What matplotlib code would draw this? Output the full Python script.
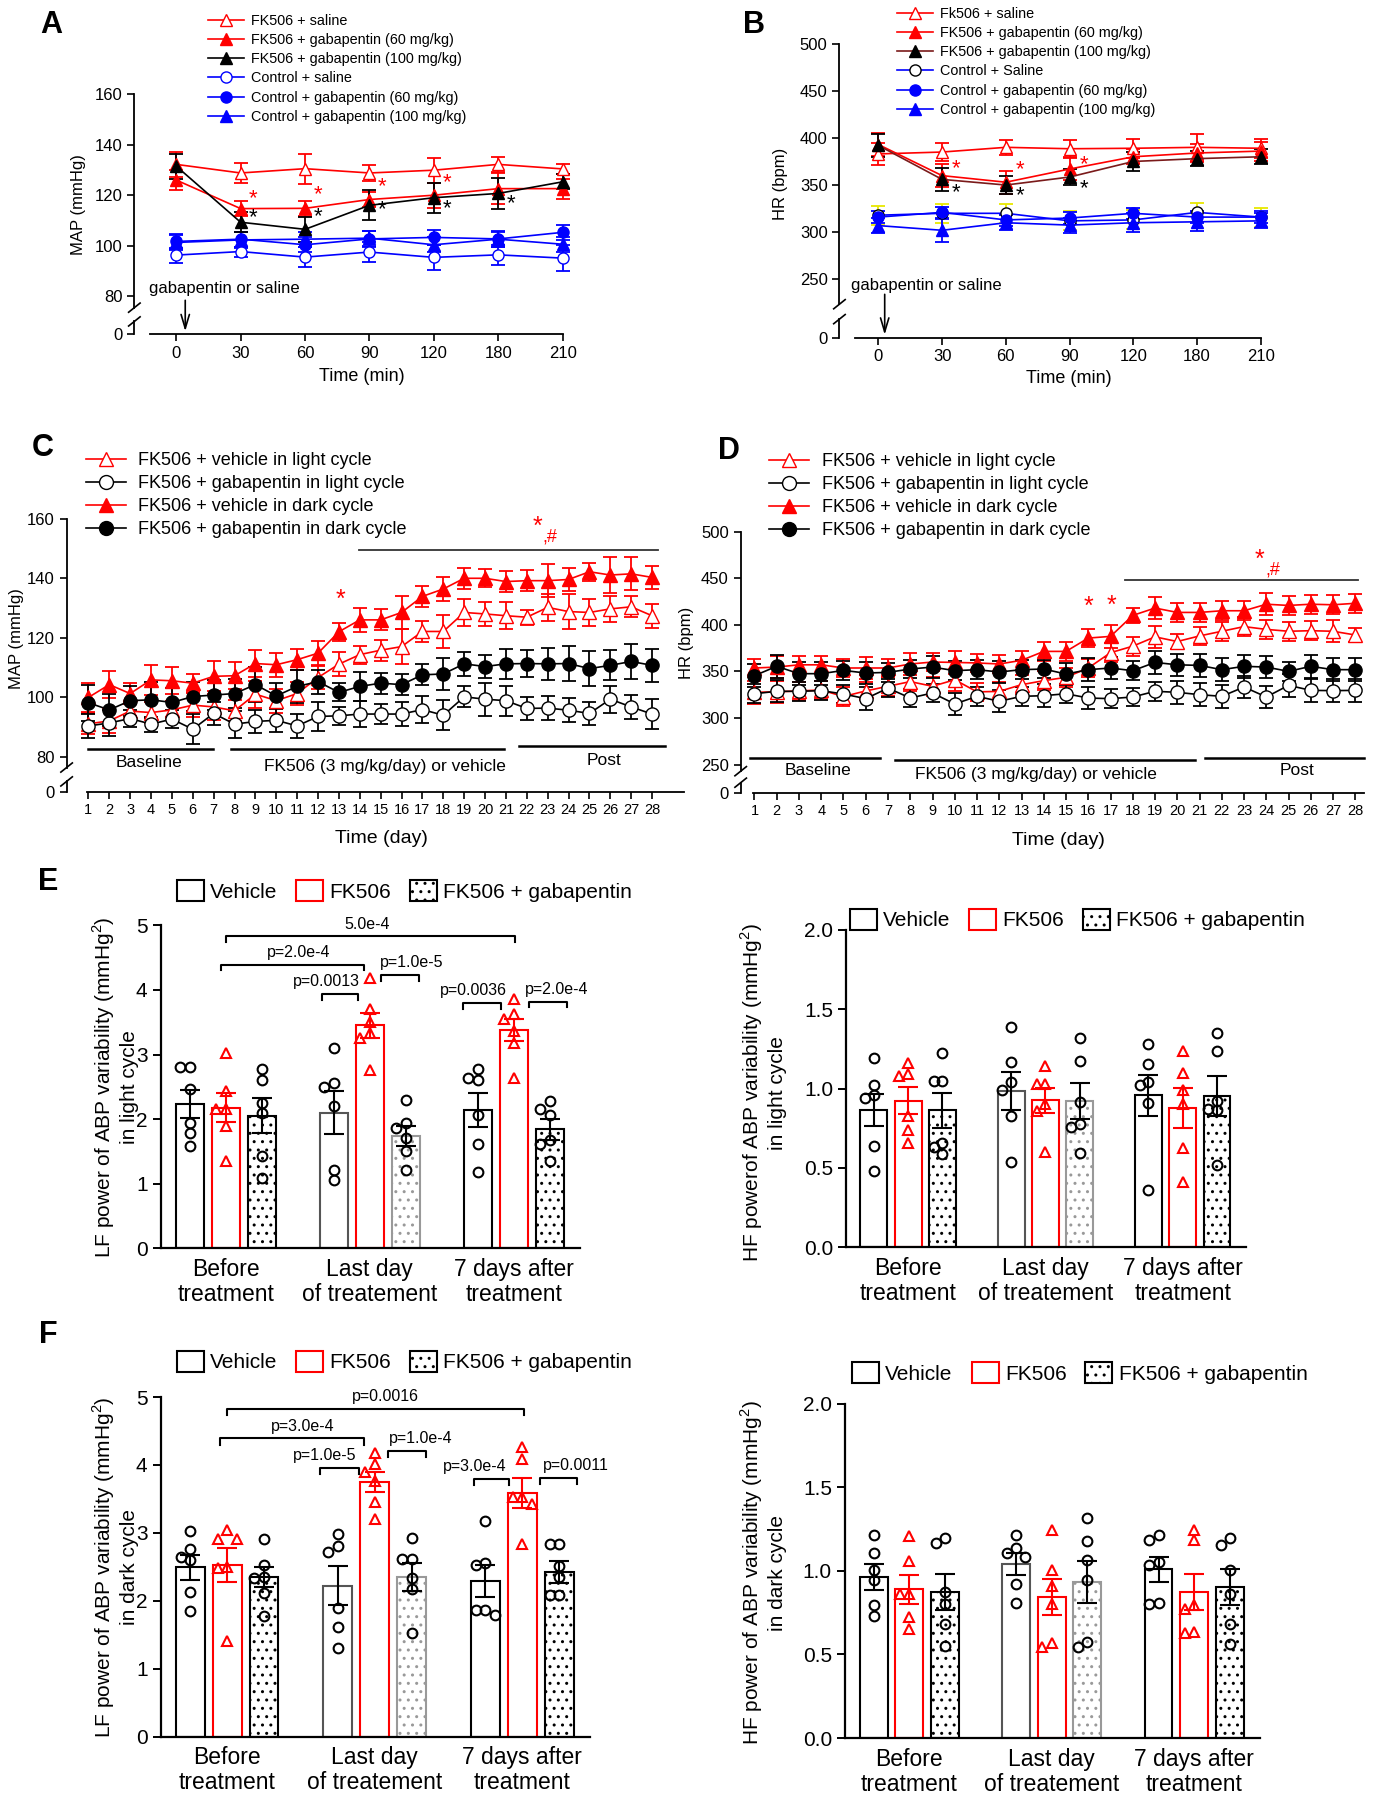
import numpy as np
import matplotlib
matplotlib.use("Agg")
import matplotlib.pyplot as plt
from matplotlib.lines import Line2D
from matplotlib.patches import Patch

plt.rcParams['font.family'] = ['Liberation Sans', 'DejaVu Sans']
plt.rcParams['mathtext.fontset'] = 'custom'
plt.rcParams['mathtext.rm'] = 'Liberation Sans'
plt.rcParams['axes.linewidth'] = 1.3

# ---------------- data ----------------
time_labels = ['0', '30', '60', '90', '120', '180', '210']

# A: MAP after acute gabapentin
a_fk_saline = [132.2, 128.8, 130.5, 128.8, 129.9, 132.2, 130.4]
a_fk_saline_err = [5, 4, 6, 3, 5, 3, 2]
a_fk_gaba60 = [126.0, 114.7, 114.8, 118.3, 120.0, 122.6, 122.6]
a_fk_gaba60_err = [4, 3, 3, 3, 5, 6, 4]
a_fk_gaba100 = [131.5, 109.3, 106.5, 116.0, 119.0, 120.7, 125.3]
a_fk_gaba100_err = [5, 4, 5, 6, 6, 6, 3]
a_ct_saline = [96.3, 97.7, 95.5, 97.5, 95.4, 96.4, 95.1]
a_ct_saline_err = [3, 2, 4, 4, 5, 4, 5]
a_ct_gaba60 = [101.7, 102.6, 100.4, 102.7, 103.3, 102.7, 105.3]
a_ct_gaba60_err = [3, 3, 3, 3, 3, 3, 3]
a_ct_gaba100 = [101.3, 102.3, 102.6, 103.0, 100.4, 102.6, 100.6]
a_ct_gaba100_err = [3, 3, 3, 3, 3, 3, 3]
a_red_star_y = [118.7, 120.4, 123.5, 124.8]
a_black_star_y = [111.0, 111.5, 114.4, 114.8, 116.5]

# B: HR after acute gabapentin
b_fk_saline = [383, 385, 390, 388.5, 389, 390, 389]
b_fk_saline_err = [12, 10, 8, 9, 10, 14, 10]
b_fk_gaba60 = [393, 360, 353, 367, 380, 384, 386]
b_fk_gaba60_err = [12, 12, 12, 12, 8, 10, 10]
b_fk_gaba100 = [392, 356, 350, 358.5, 375, 378, 380]
b_fk_gaba100_err = [12, 12, 10, 8, 10, 8, 8]
b_ct_saline = [318, 320, 320, 312, 313, 321, 316]
b_ct_saline_err = [10, 10, 10, 10, 10, 10, 10]
b_ct_gaba60 = [316, 321, 313, 315, 320, 316, 316]
b_ct_gaba60_err = [6, 6, 6, 6, 6, 6, 6]
b_ct_gaba100 = [307, 302, 310, 307.5, 310, 311, 312]
b_ct_gaba100_err = [8, 12, 8, 8, 10, 10, 8]
b_red_star_y = [367, 366, 372]
b_black_star_y = [342, 339, 346]

# C: MAP over 28 days
days = list(range(1, 29))
c_veh_light = [91, 92, 95.3, 94.8, 95.7, 97.3, 96.7, 95.4, 101, 98.8, 101.2, 106.6, 111.1, 114.3,
               115.8, 117, 122.1, 122.1, 128.5, 128, 127.4, 126.9, 130.2, 128.8, 128.5, 129.7, 130.4, 127.4]
c_veh_light_err = [3.5, 4, 3, 3.5, 3, 4, 4.5, 3.5, 4.5, 4, 4, 4, 4, 3, 3.5, 6, 3.5, 5.5, 4.5, 4, 4.5,
                   2.5, 4.5, 6, 4.5, 4.5, 3.5, 4]
c_gaba_light = [90.3, 91.3, 92.8, 90.9, 92.6, 89.2, 94.5, 90.9, 91.8, 92.2, 90.3, 93.5, 93.7, 94.3,
                94.3, 94.3, 95.8, 93.9, 100.1, 99.3, 98.8, 96.2, 96.3, 95.6, 94.5, 99.3, 96.7, 94.3]
c_gaba_light_err = [4, 4.5, 3, 2.5, 3, 5, 4, 4.5, 4, 4, 4, 5, 3, 4.5, 3.5, 4, 4.5, 5, 3.5, 5.5, 5, 4,
                    4, 4, 4, 4.5, 4, 5]
c_veh_dark = [99.9, 104.2, 101.2, 105.8, 105.5, 104.7, 107, 107.2, 111.3, 110.9, 112.6, 114.8, 122,
              126, 126, 128.5, 133.9, 136.4, 140, 140, 138.9, 139.2, 139.2, 139.6, 142.2, 141.1, 141.5, 140.3]
c_veh_dark_err = [5, 4.5, 3.5, 5, 4.5, 3, 5, 4.5, 4.5, 4, 3.5, 4, 3, 4, 3.5, 5.5, 3.5, 4, 3.5, 3, 3.5,
                  3.5, 5.5, 4, 3, 6, 5.5, 4]
c_gaba_dark = [98.1, 95.7, 98.8, 99.1, 98.2, 100.2, 100.7, 101.2, 104.2, 100.4, 103.6, 105.2, 101.6,
               103.6, 104.7, 104.2, 107.5, 107.8, 111.2, 110.3, 111.2, 111.3, 111.2, 111.3, 109.6, 110.7, 112, 110.7]
c_gaba_dark_err = [6, 5.5, 5, 6, 5, 5, 5, 5, 6, 4.5, 5.5, 4, 3, 5, 3.5, 3.5, 3.5, 5.5, 4, 4, 5, 4.5,
                   5.5, 6, 6, 5, 6, 5.5]

# D: HR over 28 days
d_veh_light = [327.5, 328, 329, 330, 323, 329, 334, 339, 334, 341, 328, 328.5, 335.7, 340, 343.6,
               353.6, 370, 377, 387, 382, 388, 393, 398, 395, 393, 393.6, 393, 389]
d_veh_light_err = [12, 12, 10, 10, 10, 10, 10, 10, 10, 12, 10, 10, 10, 10, 10, 10, 10, 10, 12, 8, 10,
                   10, 10, 10, 10, 10, 12, 8]
d_gaba_light = [326, 328.6, 328.6, 329.3, 325.7, 320.7, 332, 321.4, 326.8, 315, 323.2, 317.9, 323.2,
                323.9, 326, 321.4, 320.7, 322.5, 328.6, 327.5, 325, 323.2, 333.2, 322.5, 335, 329.6, 329.3, 329.6]
d_gaba_light_err = [10, 12, 10, 10, 10, 12, 10, 10, 10, 12, 10, 12, 10, 12, 10, 12, 10, 10, 10, 12,
                    12, 12, 12, 12, 12, 12, 12, 12]
d_veh_dark = [353.6, 354.6, 357, 357, 353.6, 353.6, 353.6, 357.9, 360, 359.6, 359, 357.9, 361.8, 371.4,
              371.4, 385.7, 387.5, 410, 417.9, 413.2, 413.2, 415, 415, 422, 420.7, 422, 421.4, 423]
d_veh_dark_err = [10, 12, 10, 10, 10, 12, 10, 12, 10, 12, 10, 10, 10, 10, 10, 10, 12, 8, 12, 10, 10,
                  10, 10, 12, 10, 10, 10, 10]
d_gaba_dark = [345.4, 355.4, 347.5, 347.5, 351, 348.2, 348.9, 352.5, 354.6, 350.7, 351.8, 349.3, 351.8,
               352.5, 347.1, 351.8, 353.6, 350.7, 359.6, 357, 356.4, 351.8, 355.4, 354.6, 350, 355.4, 351.8, 351.8]
d_gaba_dark_err = [12, 12, 12, 12, 10, 12, 10, 10, 12, 10, 10, 12, 10, 10, 12, 12, 12, 10, 12, 12, 12,
                   12, 12, 12, 10, 12, 12, 12]

# E / F: LF and HF power, bars = mean, error = SEM, dots = animals
groups = ['Before\ntreatment', 'Last day\nof treatement', '7 days after\ntreatment']
bar_names = ['Vehicle', 'FK506', 'FK506 + gabapentin']

e_lf_veh_mean = [2.23, 2.10, 2.14]
e_lf_veh_sem = [0.22, 0.33, 0.26]
e_lf_fk_mean = [2.18, 3.45, 3.38]
e_lf_fk_sem = [0.23, 0.19, 0.17]
e_lf_gaba_mean = [2.05, 1.74, 1.84]
e_lf_gaba_sem = [0.27, 0.16, 0.16]
e_lf_veh_pts = [[2.81, 2.81, 2.46, 1.94, 1.79, 1.59], [3.10, 2.56, 2.50, 2.20, 1.21, 1.06],
                [2.77, 2.64, 2.61, 2.07, 1.62, 1.18]]
e_lf_fk_pts = [[3.03, 2.43, 2.15, 2.15, 1.90, 1.35], [4.19, 3.70, 3.50, 3.34, 3.25, 2.76],
               [3.86, 3.62, 3.55, 3.36, 3.18, 2.64]]
e_lf_gaba_pts = [[2.78, 2.61, 2.25, 2.10, 1.43, 1.09], [2.30, 1.94, 1.87, 1.71, 1.50, 1.22],
                 [2.28, 2.16, 2.06, 1.67, 1.61, 1.35]]

e_hf_veh_mean = [0.863, 0.987, 0.958]
e_hf_veh_sem = [0.10, 0.12, 0.13]
e_hf_fk_mean = [0.924, 0.926, 0.878]
e_hf_fk_sem = [0.085, 0.078, 0.126]
e_hf_gaba_mean = [0.863, 0.922, 0.952]
e_hf_gaba_sem = [0.11, 0.113, 0.125]
e_hf_veh_pts = [[1.19, 1.02, 0.96, 0.94, 0.64, 0.48], [1.385, 1.17, 1.04, 0.99, 0.825, 0.54],
                [1.278, 1.154, 1.04, 1.02, 0.91, 0.358]]
e_hf_fk_pts = [[1.16, 1.09, 1.08, 0.825, 0.74, 0.66], [1.14, 1.03, 1.03, 0.90, 0.86, 0.60],
               [1.236, 1.095, 0.99, 0.90, 0.625, 0.41]]
e_hf_gaba_pts = [[1.225, 1.05, 1.05, 0.66, 0.63, 0.59], [1.316, 1.175, 0.916, 0.775, 0.758, 0.596],
                 [1.347, 1.236, 0.92, 0.874, 0.863, 0.52]]

f_lf_veh_mean = [2.49, 2.22, 2.29]
f_lf_veh_sem = [0.18, 0.29, 0.23]
f_lf_fk_mean = [2.53, 3.75, 3.59]
f_lf_fk_sem = [0.25, 0.15, 0.22]
f_lf_gaba_mean = [2.35, 2.35, 2.42]
f_lf_gaba_sem = [0.15, 0.20, 0.16]
f_lf_veh_pts = [[3.02, 2.76, 2.65, 2.60, 2.13, 1.85], [2.98, 2.80, 2.72, 1.90, 1.62, 1.31],
                [3.18, 2.55, 2.53, 1.86, 1.86, 1.79]]
f_lf_fk_pts = [[3.04, 2.91, 2.91, 2.50, 2.48, 1.40], [4.18, 4.02, 3.89, 3.77, 3.46, 3.20],
               [4.26, 4.09, 3.53, 3.53, 3.42, 2.83]]
f_lf_gaba_pts = [[2.91, 2.52, 2.35, 2.34, 2.11, 1.78], [2.93, 2.62, 2.62, 2.33, 2.18, 1.53],
                 [2.84, 2.84, 2.51, 2.35, 2.08, 2.08]]

f_hf_veh_mean = [0.963, 1.043, 1.009]
f_hf_veh_sem = [0.077, 0.066, 0.077]
f_hf_fk_mean = [0.89, 0.844, 0.874]
f_hf_fk_sem = [0.085, 0.11, 0.11]
f_hf_gaba_mean = [0.874, 0.933, 0.904]
f_hf_gaba_sem = [0.106, 0.127, 0.106]
f_hf_veh_pts = [[1.217, 1.108, 1.007, 0.947, 0.798, 0.729], [1.217, 1.138, 1.108, 1.083, 0.92, 0.808],
                [1.217, 1.186, 1.053, 1.033, 0.808, 0.80]]
f_hf_fk_pts = [[1.21, 1.057, 0.864, 0.864, 0.725, 0.65], [1.247, 1.007, 0.913, 0.804, 0.566, 0.542],
               [1.247, 1.186, 0.794, 0.77, 0.636, 0.626]]
f_hf_gaba_pts = [[1.197, 1.166, 0.874, 0.80, 0.685, 0.55], [1.317, 1.178, 1.067, 0.947, 0.576, 0.542],
                 [1.197, 1.156, 1.007, 0.86, 0.681, 0.562]]

# significance brackets: (x from, x to, y, text, text x)
e_lf_brackets = [(0.0, 2.01, 4.83, '5.0e-4', 0.98), (-0.03, 0.96, 4.39, 'p=2.0e-4', 0.51),
                 (0.67, 0.92, 3.94, 'p=0.0013', 0.70), (1.08, 1.34, 4.23, 'p=1.0e-5', 1.29),
                 (1.65, 1.91, 3.80, 'p=0.0036', 1.72), (2.11, 2.37, 3.82, 'p=2.0e-4', 2.30)]
f_lf_brackets = [(0.0, 2.01, 4.83, 'p=0.0016', 1.07), (-0.05, 0.93, 4.39, 'p=3.0e-4', 0.51),
                 (0.63, 0.89, 3.96, 'p=1.0e-5', 0.66), (1.09, 1.35, 4.21, 'p=1.0e-4', 1.31),
                 (1.67, 1.91, 3.79, 'p=3.0e-4', 1.68), (2.12, 2.37, 3.81, 'p=0.0011', 2.36)]

# ---------------- layout helpers ----------------
W, H = 1200.0, 1568.0   # layout measured on the reference at this size
fig = plt.figure(figsize=(13.78, 18), dpi=100)


def fx(x):
    return x / W


def fy(y):
    return 1 - y / H


def box(x0, x1, y0, y1):
    return [x0 / W, 1 - y1 / H, (x1 - x0) / W, (y1 - y0) / H]


def broken(x0, x1, ytop, ymain, ylow, yzero, main_lim, low_lim, xlim, xspan, fs):
    ax = fig.add_axes(box(x0, x1, ytop, ymain))
    low = fig.add_axes(box(x0, x1, ylow, yzero), sharex=ax)
    ax.set_xlim(*xlim)
    ax.set_ylim(*main_lim)
    low.set_ylim(*low_lim)
    for a in (ax, low):
        a.patch.set_visible(False)
        a.spines['top'].set_visible(False)
        a.spines['right'].set_visible(False)
        a.tick_params(direction='out', width=1.2, length=5, labelsize=fs)
    ax.spines['bottom'].set_visible(False)
    ax.tick_params(axis='x', bottom=False, labelbottom=False)
    low.set_yticks([0])
    low.spines['bottom'].set_bounds(*xspan)
    for yy in (ymain, ylow):
        fig.add_artist(Line2D([fx(x0 - 5), fx(x0 + 5)], [fy(yy + 4), fy(yy - 4)], color='black', lw=1.2))
    return ax, low


def series(ax, x, y, err, lc, mk, face, edge, ecol, ms, lw=1.2):
    c = ax.errorbar(x, y, yerr=err, color=lc, marker=mk, mfc=face, mec=edge, ms=ms, lw=lw,
                    ecolor=ecol, elinewidth=1.3, capsize=5, capthick=1.3)
    for art in c.get_children():
        art.set_clip_on(False)


def handle(lc, mk, face, edge, ms):
    return Line2D([0], [0], color=lc, marker=mk, mfc=face, mec=edge, ms=ms, lw=1.2)


# ---------------- A ----------------
xa = np.arange(len(time_labels))
axA, lowA = broken(117, 490, 82, 268, 280, 291, (75.5, 160), (0, 5), (-0.65, 6.0), (-0.4, 6), 12)
axA.set_yticks([80, 100, 120, 140, 160])
lowA.set_xticks(xa)
lowA.set_xticklabels(time_labels)
a_styles = [
    (a_ct_saline, a_ct_saline_err, 'Control + saline', 'blue', 'o', 'white', 'blue', 'blue'),
    (a_ct_gaba60, a_ct_gaba60_err, 'Control + gabapentin (60 mg/kg)', 'blue', 'o', 'blue', 'blue', 'blue'),
    (a_ct_gaba100, a_ct_gaba100_err, 'Control + gabapentin (100 mg/kg)', 'blue', '^', 'blue', 'blue', 'blue'),
    (a_fk_saline, a_fk_saline_err, 'FK506 + saline', 'red', '^', 'white', 'red', 'red'),
    (a_fk_gaba60, a_fk_gaba60_err, 'FK506 + gabapentin (60 mg/kg)', 'red', '^', 'red', 'red', 'red'),
    (a_fk_gaba100, a_fk_gaba100_err, 'FK506 + gabapentin (100 mg/kg)', 'black', '^', 'black', 'black', 'black'),
]
for y, e, lab, lc, mk, face, edge, ec in a_styles:
    series(axA, xa, y, e, lc, mk, face, edge, ec, 8)
leg_order = [3, 4, 5, 0, 1, 2]
axA.legend([handle(a_styles[i][3], a_styles[i][4], a_styles[i][5], a_styles[i][6], 8) for i in leg_order],
           [a_styles[i][2] for i in leg_order], loc='upper left', bbox_to_anchor=(fx(181), fy(12)),
           bbox_transform=fig.transFigure, frameon=False, fontsize=10.4, handlelength=2.5,
           handletextpad=0.5, labelspacing=0.36, borderpad=0, borderaxespad=0)
for i, yv in enumerate(a_red_star_y):
    axA.text(xa[i + 1] + 0.2, yv, '*', color='red', fontsize=16, ha='center', va='center')
for i, yv in enumerate(a_black_star_y):
    axA.text(xa[i + 1] + 0.2, yv, '*', color='black', fontsize=16, ha='center', va='center')
axA.text(-0.42, 83, 'gabapentin or saline', fontsize=12, ha='left', va='center')
lowA.annotate('', xy=(0.14, 0), xycoords='data', xytext=(0.14, 79.5), textcoords=axA.transData,
              arrowprops=dict(arrowstyle='->,head_length=1.0,head_width=0.3', lw=1.2, color='black'))
fig.text(fx(315), fy(328), 'Time (min)', fontsize=13, ha='center', va='center')
fig.text(fx(68), fy(178), 'MAP (mmHg)', fontsize=12, rotation=90, ha='center', va='center')

# ---------------- B ----------------
axB, lowB = broken(731, 1098, 38, 265, 278, 294, (223.6, 500), (0, 19.5), (-0.61, 6.0), (-0.37, 6), 12)
axB.set_yticks([250, 300, 350, 400, 450, 500])
lowB.set_xticks(xa)
lowB.set_xticklabels(time_labels)
b_styles = [
    (b_ct_saline, b_ct_saline_err, 'Control + Saline', 'blue', 'o', 'white', 'black', '#e8e800'),
    (b_ct_gaba60, b_ct_gaba60_err, 'Control + gabapentin (60 mg/kg)', 'blue', 'o', 'blue', 'blue', 'blue'),
    (b_ct_gaba100, b_ct_gaba100_err, 'Control + gabapentin (100 mg/kg)', 'blue', '^', 'blue', 'blue', 'blue'),
    (b_fk_saline, b_fk_saline_err, 'Fk506 + saline', 'red', '^', 'white', 'red', 'red'),
    (b_fk_gaba60, b_fk_gaba60_err, 'FK506 + gabapentin (60 mg/kg)', 'red', '^', 'red', 'red', 'red'),
    (b_fk_gaba100, b_fk_gaba100_err, 'FK506 + gabapentin (100 mg/kg)', '#7a1a1a', '^', 'black', 'black', 'black'),
]
for y, e, lab, lc, mk, face, edge, ec in b_styles:
    series(axB, xa, y, e, lc, mk, face, edge, ec, 8)
axB.legend([handle(b_styles[i][3], b_styles[i][4], b_styles[i][5], b_styles[i][6], 8) for i in leg_order],
           [b_styles[i][2] for i in leg_order], loc='upper left', bbox_to_anchor=(fx(781), fy(6)),
           bbox_transform=fig.transFigure, frameon=False, fontsize=10.4, handlelength=2.5,
           handletextpad=0.5, labelspacing=0.36, borderpad=0, borderaxespad=0)
for i, yv in enumerate(b_red_star_y):
    axB.text(xa[i + 1] + 0.22, yv, '*', color='red', fontsize=16, ha='center', va='center')
for i, yv in enumerate(b_black_star_y):
    axB.text(xa[i + 1] + 0.22, yv, '*', color='black', fontsize=16, ha='center', va='center')
axB.text(-0.43, 243, 'gabapentin or saline', fontsize=12, ha='left', va='center')
lowB.annotate('', xy=(0.1, 0), xycoords='data', xytext=(0.1, 237), textcoords=axB.transData,
              arrowprops=dict(arrowstyle='->,head_length=1.0,head_width=0.3', lw=1.2, color='black'))
fig.text(fx(931), fy(330), 'Time (min)', fontsize=13, ha='center', va='center')
fig.text(fx(680), fy(160), 'HR (bpm)', fontsize=12, rotation=90, ha='center', va='center')

# ---------------- C and D ----------------
cd_labels = ['FK506 + vehicle in light cycle', 'FK506 + gabapentin in light cycle',
             'FK506 + vehicle in dark cycle', 'FK506 + gabapentin in dark cycle']
cd_styles = [('red', '^', 'white', 'red'), ('black', 'o', 'white', 'black'),
             ('red', '^', 'red', 'red'), ('black', 'o', 'black', 'black')]


def day_panel(ax, low, data, errs, leg_xy, periods, sig, stars, fs_tick):
    for y, e, (lc, mk, face, edge) in zip(data, errs, cd_styles):
        series(ax, days, y, e, lc, mk, face, edge, lc, 9.5)
    low.set_xticks(days)
    low.set_xticklabels([str(d) for d in days])
    low.tick_params(axis='x', labelsize=fs_tick, pad=3)
    ax.legend([handle(lc, mk, face, edge, 10) for lc, mk, face, edge in cd_styles], cd_labels,
              loc='upper left', bbox_to_anchor=leg_xy, bbox_transform=fig.transFigure, frameon=False,
              fontsize=13, handlelength=2.2, handletextpad=0.7, labelspacing=0.33, borderpad=0,
              borderaxespad=0)
    for lab, x0, x1, yl, xt, yt in periods:
        ax.plot([x0, x1], [yl, yl], color='black', lw=1.8, clip_on=False)
        ax.text(xt, yt, lab, fontsize=12.5, ha='center', va='center', clip_on=False)
    x0, x1, yl, xs, ys, xh, yh = sig
    ax.plot([x0, x1], [yl, yl], color='#333333', lw=1.3, clip_on=False)
    ax.text(xs, ys, '*', color='red', fontsize=18, ha='center', va='center')
    ax.text(xh, yh, ',#', color='red', fontsize=13, ha='left', va='center')
    for xs, ys in stars:
        ax.text(xs, ys, '*', color='red', fontsize=18, ha='center', va='center')


axC, lowC = broken(58, 596, 452, 668.6, 680.7, 690, (76.3, 160), (0, 3.6), (-0.045, 29.55), (0.95, 29.55), 12)
axC.set_yticks([80, 100, 120, 140, 160])
day_panel(axC, lowC, [c_veh_light, c_gaba_light, c_veh_dark, c_gaba_dark],
          [c_veh_light_err, c_gaba_light_err, c_veh_dark_err, c_gaba_dark_err],
          (fx(75), fy(394)),
          [('Baseline', 1.0, 6.97, 82.5, 3.88, 78.0),
           ('FK506 (3 mg/kg/day) or vehicle', 7.81, 20.9, 82.5, 15.2, 76.5),
           ('Post', 21.65, 28.6, 83.4, 25.7, 78.8)],
          (13.97, 28.27, 149.6, 22.5, 157.2, 22.75, 153.8), [(13.07, 132.8)], 10.5)
fig.text(fx(332), fy(730), 'Time (day)', fontsize=14, ha='center', va='center')
fig.text(fx(14), fy(556), 'MAP (mmHg)', fontsize=12, rotation=90, ha='center', va='center')

axD, lowD = broken(645, 1188, 463, 671.8, 681.8, 690.5, (242.9, 500), (0, 11), (0.38, 28.4), (0.95, 28.4), 12)
axD.set_yticks([250, 300, 350, 400, 450, 500])
day_panel(axD, lowD, [d_veh_light, d_gaba_light, d_veh_dark, d_gaba_dark],
          [d_veh_light_err, d_gaba_light_err, d_veh_dark_err, d_gaba_dark_err],
          (fx(670), fy(395)),
          [('Baseline', 0.8, 6.62, 257.1, 3.87, 243.6),
           ('FK506 (3 mg/kg/day) or vehicle', 7.31, 20.78, 255.4, 13.65, 239.3),
           ('Post', 21.26, 28.4, 257.1, 25.4, 243.6)],
          (17.64, 28.14, 447.5, 23.7, 469.6, 23.95, 458.9), [(16.0, 419.6), (17.03, 420.7)], 10.5)
fig.text(fx(922), fy(732), 'Time (day)', fontsize=14, ha='center', va='center')
fig.text(fx(598), fy(560), 'HR (bpm)', fontsize=12, rotation=90, ha='center', va='center')

# ---------------- E and F ----------------
bar_off = [-0.25, 0.0, 0.25]
bar_w = 0.195
bar_edges = [['black', '#555555', 'black'], ['red', 'red', 'red'], ['black', '#999999', 'black']]
bar_hatch = [None, None, '..']
dot_color = ['black', 'red', 'black']
dot_marker = ['o', '^', 'o']


def swarm(vals, dy, dx):
    placed = []
    offs = []
    for v in vals:
        for o in (0.0, -dx, dx, -2 * dx, 2 * dx):
            if all(abs(v - pv) >= dy or abs(o - po) >= dx * 0.99 for pv, po in placed):
                break
        placed.append((v, o))
        offs.append(o)
    return np.array(offs)


def bar_panel(r, ylim, yticks, ytl, means, sems, pts, ylabel, ylab_xy, leg_xy, brackets):
    ax = fig.add_axes(r)
    ax.set_xlim(-0.45, 2.46)
    ax.set_ylim(*ylim)
    ax.spines['top'].set_visible(False)
    ax.spines['right'].set_visible(False)
    ax.spines['left'].set_linewidth(1.6)
    ax.spines['bottom'].set_linewidth(1.6)
    ax.set_yticks(yticks)
    ax.set_yticklabels(ytl)
    ax.tick_params(axis='y', direction='out', length=6, width=1.4, labelsize=15)
    ax.set_xticks(range(3))
    ax.set_xticklabels(groups, fontsize=16.5, linespacing=1.1)
    ax.tick_params(axis='x', length=0, pad=7)
    dy = (ylim[1] - ylim[0]) * 0.028
    for s in range(3):
        for g in range(3):
            x = g + bar_off[s]
            ax.bar(x, means[s][g], bar_w, color='white', edgecolor=bar_edges[s][g], hatch=bar_hatch[s],
                   lw=1.5, zorder=1)
            ax.errorbar(x, means[s][g], yerr=sems[s][g], color=dot_color[s], capsize=7, lw=1.5,
                        capthick=1.5, zorder=3)
            ax.plot(x + swarm(pts[s][g], dy, 0.065), pts[s][g], ls='none', marker=dot_marker[s],
                    mfc='none', mec=dot_color[s], ms=7, mew=1.5, zorder=4, clip_on=False)
    for x0, x1, yb, lab, xt in brackets:
        tk = (ylim[1] - ylim[0]) * 0.018
        ax.plot([x0, x0, x1, x1], [yb - tk, yb, yb, yb - tk], color='black', lw=1.5, clip_on=False)
        ax.text(xt, yb + tk * 0.8, lab, fontsize=11.5, ha='center', va='bottom')
    hs = [Patch(facecolor='white', edgecolor=bar_edges[i][0], hatch=bar_hatch[i], lw=1.5) for i in range(3)]
    ax.legend(hs, bar_names, loc='center left', bbox_to_anchor=leg_xy, bbox_transform=fig.transFigure,
              ncol=3, frameon=False, fontsize=15, handlelength=1.3, handleheight=1.2,
              handletextpad=0.3, columnspacing=0.9, borderpad=0, borderaxespad=0)
    fig.text(ylab_xy[0], ylab_xy[1], ylabel, fontsize=15, rotation=90, ha='center', va='center',
             multialignment='center', linespacing=1.2)
    return ax


bar_panel(box(140, 505, 806, 1087.5), (0, 5), [0, 1, 2, 3, 4, 5], ['0', '1', '2', '3', '4', '5'],
          [e_lf_veh_mean, e_lf_fk_mean, e_lf_gaba_mean], [e_lf_veh_sem, e_lf_fk_sem, e_lf_gaba_sem],
          [e_lf_veh_pts, e_lf_fk_pts, e_lf_gaba_pts],
          'LF power of ABP variability (mmHg$^2$)\nin light cycle', (fx(100), fy(947)),
          (fx(154), fy(776)), e_lf_brackets)
bar_panel(box(737, 1085, 810, 1086.5), (0, 2), [0, 0.5, 1, 1.5, 2], ['0.0', '0.5', '1.0', '1.5', '2.0'],
          [e_hf_veh_mean, e_hf_fk_mean, e_hf_gaba_mean], [e_hf_veh_sem, e_hf_fk_sem, e_hf_gaba_sem],
          [e_hf_veh_pts, e_hf_fk_pts, e_hf_gaba_pts],
          'HF powerof ABP variability (mmHg$^2$)\nin light cycle', (fx(664), fy(952)),
          (fx(740), fy(801)), [])
bar_panel(box(140, 514, 1217, 1512.7), (0, 5), [0, 1, 2, 3, 4, 5], ['0', '1', '2', '3', '4', '5'],
          [f_lf_veh_mean, f_lf_fk_mean, f_lf_gaba_mean], [f_lf_veh_sem, f_lf_fk_sem, f_lf_gaba_sem],
          [f_lf_veh_pts, f_lf_fk_pts, f_lf_gaba_pts],
          'LF power of ABP variability (mmHg$^2$)\nin dark cycle', (fx(100), fy(1365)),
          (fx(154), fy(1186)), f_lf_brackets)
bar_panel(box(736, 1097, 1223, 1514), (0, 2), [0, 0.5, 1, 1.5, 2], ['0.0', '0.5', '1.0', '1.5', '2.0'],
          [f_hf_veh_mean, f_hf_fk_mean, f_hf_gaba_mean], [f_hf_veh_sem, f_hf_fk_sem, f_hf_gaba_sem],
          [f_hf_veh_pts, f_hf_fk_pts, f_hf_gaba_pts],
          'HF power of ABP variability (mmHg$^2$)\nin dark cycle', (fx(664), fy(1370)),
          (fx(742), fy(1196)), [])

# panel letters
for lab, x, y in [('A', 45, 22), ('B', 657, 22), ('C', 37, 390), ('D', 635, 393), ('E', 42, 768),
                  ('F', 42, 1163)]:
    fig.text(fx(x), fy(y), lab, fontsize=22, fontweight='bold', ha='center', va='center')

fig.savefig('out.png', dpi=100)
